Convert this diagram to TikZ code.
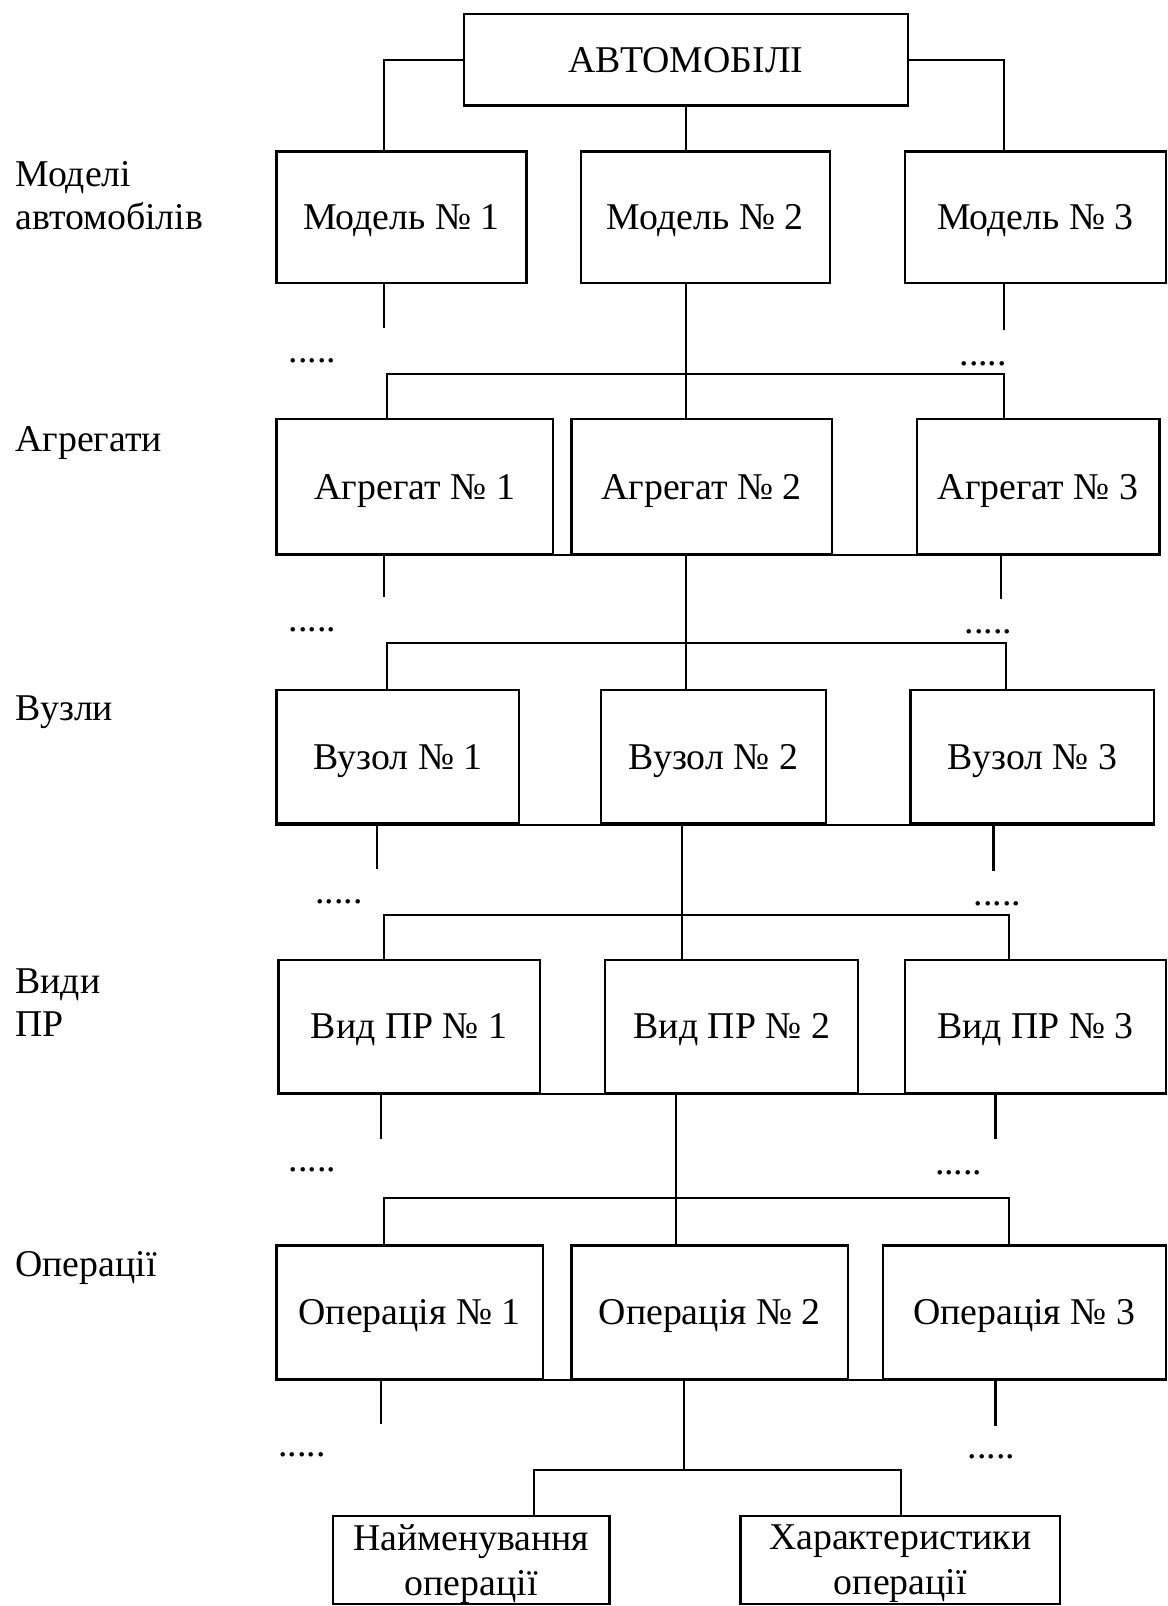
\documentclass[tikz,border=0pt]{standalone}
\usepackage{fontspec}
\setmainfont{Liberation Serif}

\tikzset{
	blok/.style={draw, rectangle, inner sep=0pt, text depth=0pt, align=center, font=\fontsize{10.5}{12.5}\selectfont},
	pidpys/.style={anchor=west, inner sep=0pt, align=left, font=\fontsize{10.5}{12}\selectfont},
	krapky/.style={inner sep=0pt, font=\fontsize{10.5}{12}\selectfont}
}

\begin{document}
\begin{tikzpicture}[x=0.01cm, y=-0.01cm, line width=0.6pt]
				\useasboundingbox (0,0) rectangle (1140,1568);
				% levels on the left
				\node[pidpys] (lmod)at(14, 191) {Моделі\\автомобілів};
				\node[pidpys] (lagr)at(14, 433) {Агрегати};
				\node[pidpys] (lvuz)at(14, 695) {Вузли};
				\node[pidpys] (lvid)at(14, 979) {Види\\ПР};
				\node[pidpys] (lop)at(14, 1238) {Операції};
				% boxes
				\node[blok, minimum width=4.33cm, minimum height=0.89cm] (avto)at(669.5, 58.5) {АВТОМОБІЛІ};
				\node[blok, minimum width=2.44cm, minimum height=1.28cm] (M1)at(392, 212) {Модель № 1};
				\node[blok, minimum width=2.43cm, minimum height=1.28cm] (M2)at(688.5, 212) {Модель № 2};
				\node[blok, minimum width=2.54cm, minimum height=1.28cm] (M3)at(1011, 212) {Модель № 3};
				\node[blok, minimum width=2.70cm, minimum height=1.32cm] (A1)at(405, 475) {Агрегат № 1};
				\node[blok, minimum width=2.54cm, minimum height=1.32cm] (A2)at(685, 475) {Агрегат № 2};
				\node[blok, minimum width=2.37cm, minimum height=1.32cm] (A3)at(1013.5, 475) {Агрегат № 3};
				\node[blok, minimum width=2.37cm, minimum height=1.30cm] (V1)at(388.5, 739) {Вузол № 1};
				\node[blok, minimum width=2.19cm, minimum height=1.30cm] (V2)at(696.5, 739) {Вузол № 2};
				\node[blok, minimum width=2.38cm, minimum height=1.30cm] (V3)at(1008, 739) {Вузол № 3};
				\node[blok, minimum width=2.55cm, minimum height=1.30cm] (P1)at(399.5, 1002) {Вид ПР № 1};
				\node[blok, minimum width=2.47cm, minimum height=1.30cm] (P2)at(714.5, 1002) {Вид ПР № 2};
				\node[blok, minimum width=2.54cm, minimum height=1.30cm] (P3)at(1011, 1002) {Вид ПР № 3};
				\node[blok, minimum width=2.60cm, minimum height=1.30cm] (O1)at(400, 1281) {Операція № 1};
				\node[blok, minimum width=2.70cm, minimum height=1.30cm] (O2)at(693, 1281) {Операція № 2};
				\node[blok, minimum width=2.76cm, minimum height=1.30cm] (O3)at(1000, 1281) {Операція № 3};
				\node[blok, minimum width=2.70cm, minimum height=0.86cm] (naim)at(460, 1523) {Найменування\\операції};
				\node[blok, minimum width=3.12cm, minimum height=0.86cm] (khar)at(879, 1523) {Характеристики\\операції};
				% dots
				\node[krapky] (d1l)at(305, 352) {.....};
				\node[krapky] (d1r)at(960, 355) {.....};
				\node[krapky] (d2l)at(305, 615) {.....};
				\node[krapky] (d2r)at(965, 617) {.....};
				\node[krapky] (d3l)at(331, 880) {.....};
				\node[krapky] (d3r)at(974, 882) {.....};
				\node[krapky] (d4l)at(305, 1142) {.....};
				\node[krapky] (d4r)at(936, 1145) {.....};
				\node[krapky] (d5l)at(295, 1420) {.....};
				\node[krapky] (d5r)at(968, 1422) {.....};
				% joined bottoms
				\draw (A1.south west) -- (A3.south east);
				\draw (V1.south west) -- (V3.south east);
				\draw (P1.south west) -- (P3.south east);
				\draw (O1.south west) -- (O3.south east);
				% avtomobili -> modeli
				\coordinate (k0l) at (375, 58.5);
				\coordinate (k0r) at (980, 58.5);
				\draw (avto.west) -- (k0l) -- (k0l |- M1.north);
				\draw (avto.east) -- (k0r) -- (k0r |- M3.north);
				\draw (avto.south) -- (avto.south |- M2.north);
				% modeli -> agregaty
				\coordinate (s1l) at (375, 320);
				\coordinate (s1r) at (980, 322);
				\coordinate (b1) at (670, 365);
				\coordinate (b1l) at (378, 365);
				\coordinate (b1r) at (980, 365);
				\draw (s1l |- M1.south) -- (s1l);
				\draw (s1r |- M3.south) -- (s1r);
				\draw (b1 |- M2.south) -- (b1) -- (b1 |- A2.north);
				\draw (b1l |- A1.north) -- (b1l) -- (b1r) -- (b1r |- A3.north);
				% agregaty -> vuzly
				\coordinate (s2l) at (375, 583);
				\coordinate (s2r) at (977, 585);
				\coordinate (b2) at (670, 628);
				\coordinate (b2l) at (378, 628);
				\coordinate (b2r) at (982, 628);
				\draw (s2l |- A1.south) -- (s2l);
				\draw (s2r |- A3.south) -- (s2r);
				\draw (b2 |- A2.south) -- (b2) -- (b2 |- V2.north);
				\draw (b2l |- V1.north) -- (b2l) -- (b2r) -- (b2r |- V3.north);
				% vuzly -> vydy PR
				\coordinate (s3l) at (368, 848);
				\coordinate (s3r) at (970, 850);
				\coordinate (b3) at (666, 893);
				\coordinate (b3l) at (375, 893);
				\coordinate (b3r) at (985, 893);
				\draw (s3l |- V1.south) -- (s3l);
				\draw (s3r |- V3.south) -- (s3r);
				\draw (b3 |- V2.south) -- (b3) -- (b3 |- P2.north);
				\draw (b3l |- P1.north) -- (b3l) -- (b3r) -- (b3r |- P3.north);
				% vydy PR -> operatsii
				\coordinate (s4l) at (372, 1112);
				\coordinate (s4r) at (972, 1112);
				\coordinate (b4) at (660, 1170);
				\coordinate (b4l) at (375, 1170);
				\coordinate (b4r) at (985, 1170);
				\draw (s4l |- P1.south) -- (s4l);
				\draw (s4r |- P3.south) -- (s4r);
				\draw (b4 |- P2.south) -- (b4) -- (b4 |- O2.north);
				\draw (b4l |- O1.north) -- (b4l) -- (b4r) -- (b4r |- O3.north);
				% operatsii -> naimenuvannia, kharakterystyky
				\coordinate (s5l) at (372, 1390);
				\coordinate (s5r) at (972, 1392);
				\coordinate (b5) at (668, 1435);
				\coordinate (b5l) at (521, 1435);
				\coordinate (b5r) at (880, 1435);
				\draw (s5l |- O1.south) -- (s5l);
				\draw (s5r |- O3.south) -- (s5r);
				\draw (b5 |- O2.south) -- (b5);
				\draw (b5l |- naim.north) -- (b5l) -- (b5r) -- (b5r |- khar.north);
			\end{tikzpicture}
\end{document}
